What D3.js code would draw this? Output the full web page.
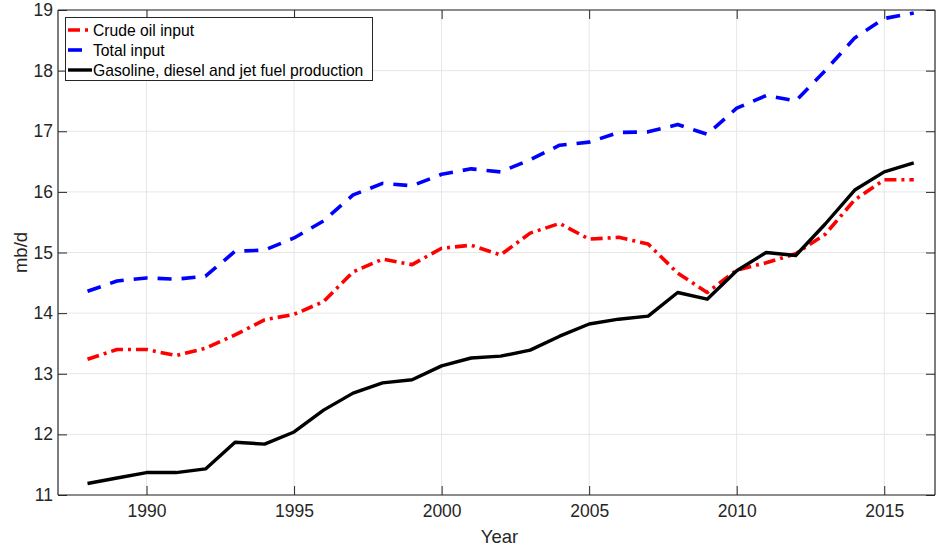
<!DOCTYPE html>
<html><head><meta charset="utf-8">
<script src="https://cdn.jsdelivr.net/npm/d3@7"></script>
<style>body{margin:0;background:#fff}svg{display:block}text{font-family:"Liberation Sans",Arial,Helvetica,sans-serif}</style>
</head><body><div id="chart"></div>
<script>
const years = d3.range(1988, 2017);
const crudeOil = [13.24,13.40,13.40,13.30,13.42,13.64,13.89,13.98,14.19,14.68,14.89,14.80,15.07,15.12,14.96,15.32,15.48,15.22,15.25,15.14,14.66,14.34,14.71,14.83,14.98,15.30,15.87,16.20,16.20];
const totalInput = [14.36,14.53,14.58,14.56,14.61,15.02,15.04,15.24,15.52,15.95,16.14,16.10,16.29,16.38,16.33,16.53,16.77,16.82,16.98,16.99,17.11,16.95,17.38,17.59,17.50,18.00,18.54,18.86,18.95];
const gasoline = [11.19,11.28,11.37,11.37,11.43,11.87,11.84,12.04,12.40,12.68,12.85,12.90,13.13,13.26,13.29,13.39,13.62,13.82,13.90,13.95,14.34,14.23,14.70,15.00,14.95,15.47,16.03,16.33,16.48];
const xTicks = [1990,1995,2000,2005,2010,2015];
const yTicks = [11,12,13,14,15,16,17,18,19];
const seriesNames = ["Crude oil input","Total input","Gasoline, diesel and jet fuel production"];

const W=936,H=550;
const m={left:58,top:10,right:935,bottom:495};
const svg=d3.select("#chart").append("svg").attr("width",W).attr("height",H);
const x=d3.scaleLinear().domain([1987,2016.72]).range([m.left,m.right]);
const y=d3.scaleLinear().domain([11,19]).range([m.bottom,m.top]);
const axisCol="#262626";

// grid
const g=svg.append("g");
g.selectAll(".gx").data(xTicks).join("line").attr("x1",d=>x(d)).attr("x2",d=>x(d)).attr("y1",m.top).attr("y2",m.bottom).attr("stroke","#e6e6e6").attr("stroke-width",1);
g.selectAll(".gy").data(yTicks).join("line").attr("y1",d=>y(d)).attr("y2",d=>y(d)).attr("x1",m.left).attr("x2",m.right).attr("stroke","#e6e6e6").attr("stroke-width",1);

// lines
const line=(arr)=>d3.line().x((d,i)=>x(years[i])).y(d=>y(d))(arr);
const styles=[
 {data:crudeOil,color:"#ff0000",dash:"12,5,3,5",w:3.6},
 {data:totalInput,color:"#0000ff",dash:"14,10",w:3.6},
 {data:gasoline,color:"#000000",dash:null,w:3.4}
];
styles.forEach(s=>{
  svg.append("path").attr("d",line(s.data)).attr("fill","none").attr("stroke",s.color).attr("stroke-width",s.w).attr("stroke-dasharray",s.dash).attr("stroke-linejoin","round");
});

// axes
const xb=d3.axisBottom(x).tickValues(xTicks).tickSize(-9).tickPadding(10).tickFormat(d3.format("d"));
const xt=d3.axisTop(x).tickValues(xTicks).tickSize(-9).tickFormat("");
const yl=d3.axisLeft(y).tickValues(yTicks).tickSize(-9).tickPadding(5);
const yr=d3.axisRight(y).tickValues(yTicks).tickSize(-9).tickFormat("");
function style(sel){sel.select(".domain").attr("stroke",axisCol).attr("stroke-width",1.2);sel.selectAll(".tick line").attr("stroke",axisCol);sel.selectAll("text").attr("fill",axisCol).attr("font-size",17.5).attr("font-family","'Liberation Sans',Arial,sans-serif");}
svg.append("g").attr("transform",`translate(0,${m.bottom})`).call(xb).call(style).call(s=>s.select(".domain").attr("d",`M${m.left},0H${m.right}`));
svg.append("g").attr("transform",`translate(0,${m.top})`).call(xt).call(style).call(s=>s.select(".domain").attr("d",`M${m.left},0H${m.right}`));
svg.append("g").attr("transform",`translate(${m.left},0)`).call(yl).call(style).call(s=>s.select(".domain").attr("d",`M0,${m.top}V${m.bottom}`));
svg.append("g").attr("transform",`translate(${m.right},0)`).call(yr).call(style).call(s=>s.select(".domain").attr("d",`M0,${m.top}V${m.bottom}`));

// labels
svg.append("text").attr("x",(m.left+m.right)/2+3).attr("y",543).attr("text-anchor","middle").attr("font-size",18.5).attr("fill",axisCol).text("Year");
svg.append("text").attr("transform",`translate(27,${(m.top+m.bottom)/2}) rotate(-90)`).attr("text-anchor","middle").attr("font-size",18.5).attr("fill",axisCol).text("mb/d");

// legend
const lg=svg.append("g");
lg.append("rect").attr("x",65.5).attr("y",17.5).attr("width",307).attr("height",63).attr("fill","#fff").attr("stroke",axisCol).attr("stroke-width",1);
styles.forEach((s,i)=>{
  const yy=30+i*20;
  lg.append("line").attr("x1",68).attr("x2",92).attr("y1",yy).attr("y2",yy).attr("stroke",s.color).attr("stroke-width",s.w).attr("stroke-dasharray",s.dash);
  lg.append("text").attr("x",93).attr("y",yy+5.5).attr("font-size",15.7).attr("fill","#000").text(seriesNames[i]);
});
</script></body></html>
